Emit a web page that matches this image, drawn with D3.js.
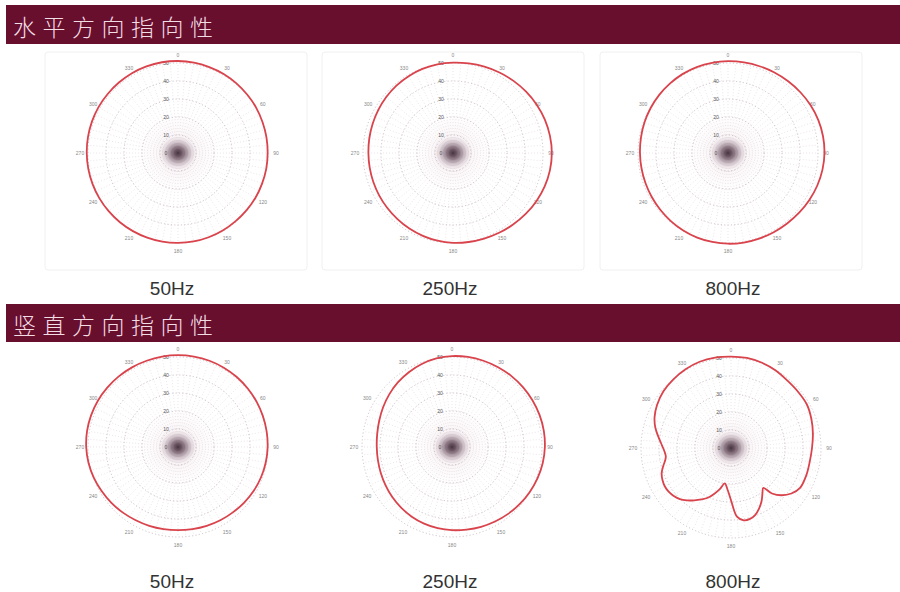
<!DOCTYPE html>
<html>
<head>
<meta charset="utf-8">
<script src="https://cdn.jsdelivr.net/npm/d3@7"></script>
<style>
  html, body { margin: 0; padding: 0; background: #fff; }
  svg { display: block; }
</style>
</head>
<body>
<svg id="chart" width="900" height="592"></svg>
<script>
// Section headings and frequency captions
const sectionTitles = ["水平方向指向性", "竖直方向指向性"];
const freqLabels = ["50Hz", "250Hz", "800Hz"];

// Polar grid ticks
const angleTicks = [0, 30, 60, 90, 120, 150, 180, 210, 240, 270, 300, 330];
const ringTicks = [0, 10, 20, 30, 40, 50];

// Measurement angles (degrees, clockwise from front)
const angles10 = [0, 10, 20, 30, 40, 50, 60, 70, 80, 90, 100, 110, 120, 130, 140, 150, 160, 170,
                  180, 190, 200, 210, 220, 230, 240, 250, 260, 270, 280, 290, 300, 310, 320, 330, 340, 350];

// Horizontal directivity (dB)
const h50 = [51.1, 51.0, 50.8, 50.7, 50.5, 50.3, 50.2, 50.0, 49.9, 49.8, 49.8, 49.7, 49.7, 49.6, 49.6, 49.7, 49.8, 49.9,
             49.9, 50.0, 50.0, 50.1, 50.2, 50.3, 50.4, 50.5, 50.6, 50.7, 50.8, 50.9, 51.0, 51.0, 51.1, 51.2, 51.2, 51.2];
const h250 = [50.2, 50.5, 51.0, 51.6, 52.3, 53.0, 53.7, 54.3, 54.7, 54.9, 54.7, 54.2, 53.5, 52.7, 51.9, 51.2, 50.6, 50.2,
              49.9, 49.5, 49.0, 48.5, 48.0, 47.6, 47.3, 47.1, 47.0, 47.0, 47.2, 47.5, 47.9, 48.4, 48.9, 49.3, 49.7, 50.0];
const h800 = [51.0, 51.1, 51.3, 51.6, 52.0, 52.5, 53.0, 53.4, 53.6, 53.6, 53.3, 52.8, 52.2, 51.6, 51.1, 50.8, 50.6, 50.5,
              50.4, 50.2, 50.0, 49.7, 49.4, 49.1, 48.9, 48.8, 48.8, 48.9, 49.1, 49.4, 49.7, 50.0, 50.3, 50.6, 50.8, 50.9];

// Vertical directivity (dB)
const v50 = [51.0, 51.0, 51.0, 50.9, 50.8, 50.6, 50.4, 50.2, 50.0, 49.8, 49.5, 49.1, 48.6, 48.0, 47.4, 47.0, 46.6, 46.3,
             46.2, 46.3, 46.6, 47.0, 47.6, 48.3, 49.0, 49.8, 50.5, 51.0, 51.3, 51.4, 51.4, 51.3, 51.2, 51.1, 51.0, 51.0];
const v250 = [50.5, 50.8, 51.0, 51.2, 51.4, 51.6, 51.7, 51.8, 51.8, 51.6, 51.2, 50.6, 49.9, 49.2, 48.5, 47.8, 47.2, 46.6,
              46.2, 45.8, 45.3, 44.7, 44.0, 43.3, 42.6, 42.1, 41.8, 41.8, 42.2, 43.0, 44.2, 45.5, 46.8, 48.0, 49.1, 50.0];
const v800Angles = [0, 10, 20, 30, 40, 50, 60, 70, 80, 90, 100, 110, 120, 127, 133, 138, 141, 145, 150, 155, 160, 165,
                    170, 175, 180, 185, 190, 195, 200, 205, 210, 215, 220, 225, 230, 235, 240, 245, 250, 255, 260, 263,
                    267, 272, 278, 285, 292, 300, 310, 320, 330, 340, 350];
const v800 = [50.8, 50.8, 50.4, 49.7, 48.8, 48.6, 48.6, 47.5, 46.2, 45.0, 44.4, 44.5, 44.3, 42.0, 38.5, 34.0, 28.5, 30.5,
              34.0, 37.0, 39.5, 40.8, 40.8, 38.3, 29.0, 23.0, 20.0, 23.5, 27.0, 30.5, 33.0, 35.5, 38.0, 40.2, 41.5, 42.3,
              42.5, 42.0, 41.0, 39.0, 37.0, 36.5, 37.0, 38.3, 40.5, 43.5, 45.8, 47.5, 49.0, 49.8, 50.5, 51.0, 51.0];

const svg = d3.select("#chart");
const defs = svg.append("defs");

const hub = defs.append("radialGradient").attr("id", "hub");
hub.append("stop").attr("offset", "0%").attr("stop-color", "#3f2d3a").attr("stop-opacity", 0.9);
hub.append("stop").attr("offset", "35%").attr("stop-color", "#5e4654").attr("stop-opacity", 0.7);
hub.append("stop").attr("offset", "70%").attr("stop-color", "#9a8290").attr("stop-opacity", 0.3);
hub.append("stop").attr("offset", "100%").attr("stop-color", "#d4c4cc").attr("stop-opacity", 0);

const haze = defs.append("radialGradient").attr("id", "haze");
haze.append("stop").attr("offset", "0%").attr("stop-color", "#e8d8de").attr("stop-opacity", 0.55);
haze.append("stop").attr("offset", "100%").attr("stop-color", "#f4eaee").attr("stop-opacity", 0);

// Section header bars
const bars = [{ y: 5, h: 39, title: sectionTitles[0] }, { y: 304, h: 38, title: sectionTitles[1] }];
bars.forEach(b => {
  svg.append("rect").attr("x", 6).attr("y", b.y).attr("width", 894).attr("height", b.h).attr("fill", "#690f2e");
  svg.append("text").attr("x", 13).attr("y", b.y + b.h - 8)
    .attr("font-family", "'Noto Sans CJK SC', sans-serif").attr("font-weight", 300)
    .attr("font-size", 23).attr("letter-spacing", 6.5).attr("fill", "#f2dde5")
    .text(b.title);
});

// Faint panel frames behind the upper row
[45, 322, 600].forEach(x => {
  svg.append("rect").attr("x", x).attr("y", 52).attr("width", 262).attr("height", 218)
    .attr("rx", 3).attr("fill", "none").attr("stroke", "#f0f0f0").attr("stroke-width", 1);
});

const r = d3.scaleLinear().domain([0, 50]).range([0, 90]);
const spokes = d3.range(0, 360, 5);

function polar(cx, cy, angles, values) {
  const g = svg.append("g").attr("transform", `translate(${cx},${cy})`);

  g.append("circle").attr("r", r(22)).attr("fill", "url(#haze)");

  // radial spokes
  g.selectAll("line.spoke").data(spokes).join("line")
    .attr("x1", 0).attr("y1", 0)
    .attr("x2", a => r(50) * Math.sin(a * Math.PI / 180))
    .attr("y2", a => -r(50) * Math.cos(a * Math.PI / 180))
    .attr("stroke", "#d9c9d0").attr("stroke-width", 0.5)
    .attr("stroke-dasharray", "1,2");

  // rings
  g.selectAll("circle.ring").data(ringTicks.slice(1)).join("circle")
    .attr("r", d => r(d)).attr("fill", "none")
    .attr("stroke", "#b9a9b1").attr("stroke-width", 0.7)
    .attr("stroke-dasharray", "1.2,2.2");

  // dense hub where the spokes meet
  g.append("ellipse").attr("rx", 19).attr("ry", 17).attr("fill", "url(#hub)");
  g.append("rect").attr("x", -9).attr("y", -9).attr("width", 18).attr("height", 18)
    .attr("transform", "rotate(45)").attr("fill", "url(#hub)").attr("opacity", 0.6);

  // radial labels
  g.selectAll("text.rl").data(ringTicks).join("text")
    .attr("x", -12).attr("y", d => -r(d) + 2)
    .attr("text-anchor", "middle").attr("font-size", 5)
    .attr("font-family", "'Liberation Sans', sans-serif").attr("fill", "#555")
    .text(d => d);

  // angle labels
  g.selectAll("text.al").data(angleTicks).join("text")
    .attr("x", a => 98 * Math.sin(a * Math.PI / 180))
    .attr("y", a => -98 * Math.cos(a * Math.PI / 180))
    .attr("text-anchor", "middle").attr("dominant-baseline", "central")
    .attr("font-size", 5).attr("font-family", "'Liberation Sans', sans-serif")
    .attr("fill", "#888")
    .text(a => a);

  const line = d3.lineRadial()
    .angle(d => d[0] * Math.PI / 180)
    .radius(d => r(d[1]))
    .curve(d3.curveCatmullRomClosed.alpha(0.5));

  g.append("path")
    .datum(angles.map((a, i) => [a, values[i]]))
    .attr("d", line).attr("fill", "none")
    .attr("stroke", "#d9434c").attr("stroke-width", 1.8);
}

polar(178, 153, angles10, h50);
polar(453, 153, angles10, h250);
polar(728, 153, angles10, h800);
polar(178, 447, angles10, v50);
polar(452, 447, angles10, v250);
polar(731, 448, v800Angles, v800);

// Frequency captions
const captionX = [172, 450, 733];
[295, 588].forEach(y => {
  freqLabels.forEach((t, i) => {
    svg.append("text").attr("x", captionX[i]).attr("y", y)
      .attr("text-anchor", "middle").attr("font-size", 19)
      .attr("font-family", "'Liberation Sans', Arial, sans-serif").attr("fill", "#333")
      .text(t);
  });
});
</script>
</body>
</html>
